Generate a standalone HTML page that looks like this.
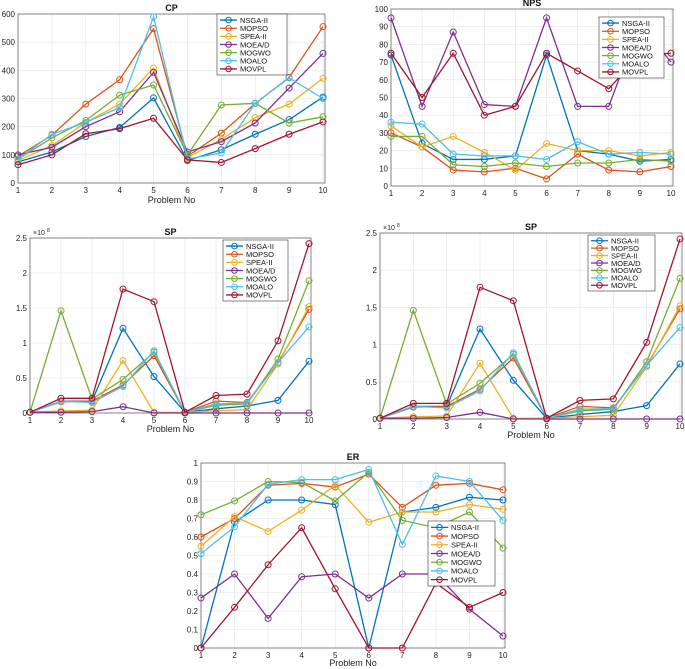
<!DOCTYPE html>
<html><head><meta charset="utf-8">
<style>
html,body{margin:0;padding:0;background:#fff;}
svg{display:block;font-family:"Liberation Sans",sans-serif;}
</style></head>
<body>
<svg id="fig" width="685" height="669" viewBox="0 0 685 669" xmlns="http://www.w3.org/2000/svg"></svg>
<script>
const seriesNames = ["NSGA-II","MOPSO","SPEA-II","MOEA/D","MOGWO","MOALO","MOVPL"];
const seriesColors = ["#0072BD","#D95319","#EDB120","#7E2F8E","#77AC30","#4DBEEE","#A2142F"];
const problems = [1,2,3,4,5,6,7,8,9,10];

const cpNSGA = [75,110,165,197,302,80,118,173,225,305];
const cpMOPSO = [95,170,280,367,548,95,177,282,375,555];
const cpSPEA = [80,133,215,280,408,90,155,232,280,372];
const cpMOEAD = [100,127,200,253,393,110,147,213,337,460];
const cpMOGWO = [85,160,222,312,348,100,277,283,213,235];
const cpMOALO = [85,173,215,268,590,85,107,283,373,300];
const cpMOVPL = [65,100,175,193,230,82,73,122,173,217];
const cpTicks = [0,100,200,300,400,500,600];

const npsNSGA = [74,24,15,15,17,74,20,18,14,15];
const npsMOPSO = [30,22,9,8,10,4,18,9,8,11];
const npsSPEA = [34,22,28,19,9,24,20,20,17,19];
const npsMOEAD = [95,45,87,46,45,95,45,45,92,70];
const npsMOGWO = [28,28,12,11,13,11,13,13,15,14];
const npsMOALO = [36,35,18,17,17,15,25,18,19,18];
const npsMOVPL = [75,50,75,40,45,75,65,55,74,75];
const npsTicks = [0,10,20,30,40,50,60,70,80,90,100];

const spNSGA = [0.01,0.17,0.17,1.21,0.52,0.01,0.06,0.10,0.18,0.74];
const spMOPSO = [0.01,0.16,0.17,0.40,0.82,0.01,0.17,0.15,0.72,1.48];
const spSPEA = [0.01,0.03,0.04,0.75,0.01,0.01,0.03,0.05,0.70,1.52];
const spMOEAD = [0.01,0.01,0.02,0.09,0.0,0.0,0.0,0.0,0.0,0.0];
const spMOGWO = [0.01,1.46,0.20,0.48,0.87,0.01,0.11,0.13,0.77,1.89];
const spMOALO = [0.01,0.17,0.15,0.38,0.89,0.01,0.13,0.14,0.72,1.23];
const spMOVPL = [0.01,0.21,0.21,1.77,1.59,0.01,0.25,0.27,1.03,2.42];
const spTicks = [0,0.5,1,1.5,2,2.5];

const erNSGA = [0,0.68,0.8,0.8,0.775,0,0.735,0.76,0.815,0.8];
const erMOPSO = [0.6,0.7,0.88,0.89,0.87,0.94,0.76,0.88,0.89,0.855];
const erSPEA = [0.55,0.71,0.63,0.745,0.88,0.68,0.735,0.735,0.775,0.75];
const erMOEAD = [0.27,0.4,0.16,0.385,0.4,0.27,0.4,0.4,0.21,0.065];
const erMOGWO = [0.72,0.795,0.9,0.895,0.795,0.95,0.69,0.65,0.735,0.54];
const erMOALO = [0.51,0.655,0.885,0.91,0.91,0.965,0.56,0.93,0.9,0.69];
const erMOVPL = [0,0.22,0.45,0.65,0.32,0,0,0.35,0.22,0.3];
const erTicks = [0,0.1,0.2,0.3,0.4,0.5,0.6,0.7,0.8,0.9,1];

const NS = "http://www.w3.org/2000/svg";
const fig = document.getElementById("fig");
function mk(tag, attrs, parent){
  const e = document.createElementNS(NS, tag);
  for (const k in attrs) e.setAttribute(k, attrs[k]);
  parent.appendChild(e);
  return e;
}

function panel(cfg){
  const g = mk("g", {}, fig);
  
  
  const ymin = cfg.ticks[0], ymax = cfg.ticks[cfg.ticks.length-1];
  const xs = v => cfg.x0 + (v-1)/9*(cfg.x1-cfg.x0);
  const ys = v => cfg.y0 - (v-ymin)/(ymax-ymin)*(cfg.y0-cfg.y1);
  const R = cfg.right || cfg.x1;
  // grid
  problems.forEach(p=>{
    const l = mk("line",{x1:xs(p),x2:xs(p),y1:cfg.y1,y2:cfg.y0,stroke:"#e3e3e3","stroke-width":0.6},g);
    
    
    const t = mk("text",{x:xs(p),y:cfg.y0+10,"font-size":8,"text-anchor":"middle",fill:"#222"},g);
    t.textContent = p;
    
    
  });
  cfg.ticks.forEach(v=>{
    const l = mk("line",{x1:cfg.x0,x2:R,y1:ys(v),y2:ys(v),stroke:"#e3e3e3","stroke-width":0.6},g);
    
    
    const t = mk("text",{x:cfg.x0-3,y:ys(v)+3,"font-size":8,"text-anchor":"end",fill:"#222"},g);
    t.textContent = v;
    
    
  });
  const box = mk("rect",{x:cfg.x0,y:cfg.y1,width:R-cfg.x0,height:cfg.y0-cfg.y1,fill:"none",stroke:"#555","stroke-width":0.7},g);
  
  
  // series
  cfg.data.forEach((arr,i)=>{
    const sg = mk("g",{},g);
    
    
    const pts = arr.map((v,j)=>xs(problems[j])+","+ys(v)).join(" ");
    mk("polyline",{points:pts,fill:"none",stroke:seriesColors[i],"stroke-width":1.3},sg);
    arr.forEach((v,j)=>{
      const c = mk("circle",{cx:xs(problems[j]),cy:ys(v),r:3,fill:"none",stroke:seriesColors[i],"stroke-width":1},sg);
      
      
    });
  });
  // title
  const tt = mk("text",{x:(cfg.x0+R)/2,y:cfg.y1-3,"font-size":9,"font-weight":"bold","text-anchor":"middle",fill:"#111"},g);
  tt.textContent = cfg.title;
  
  
  if (cfg.xlabel){
    const xl = mk("text",{x:(cfg.x0+R)/2,y:cfg.xlabelY,"font-size":9,"text-anchor":"middle",fill:"#222"},g);
    xl.textContent = "Problem No";
    
    
  }
  if (cfg.exp){
    const ex = mk("text",{x:cfg.x0+3,y:cfg.y1-3,"font-size":7,fill:"#222"},g);
    ex.textContent = "\u00d710";
    
    
    const es = mk("text",{x:cfg.x0+17,y:cfg.y1-6,"font-size":5,fill:"#222"},g);
    es.textContent = "8";
  }
  // legend
  const L = cfg.legend;
  const lg = mk("g",{},g);
  
  
  mk("rect",{x:L[0],y:L[1],width:L[2]-L[0],height:L[3]-L[1],fill:"#fff",stroke:"#333","stroke-width":0.6},lg);
  const step = (L[3]-L[1]-4)/7;
  seriesNames.forEach((n,i)=>{
    const e = mk("g",{},lg);
    
    
    const yy = L[1]+2+step*(i+0.5);
    mk("line",{x1:L[0]+3,x2:L[0]+20,y1:yy,y2:yy,stroke:seriesColors[i],"stroke-width":1.3},e);
    mk("circle",{cx:L[0]+11.5,cy:yy,r:2.8,fill:"none",stroke:seriesColors[i],"stroke-width":1},e);
    const t = mk("text",{x:L[0]+23,y:yy+2.8,"font-size":7.5,fill:"#111"},e);
    t.textContent = n;
  });
}

panel({name:"cp-chart",title:"CP",x0:18,x1:323,right:325,y0:183,y1:14,ticks:cpTicks,
  data:[cpNSGA,cpMOPSO,cpSPEA,cpMOEAD,cpMOGWO,cpMOALO,cpMOVPL],
  legend:[217,14,287,75],xlabel:true,xlabelY:203});
panel({name:"nps-chart",title:"NPS",x0:391,x1:671,right:673,y0:186,y1:9,ticks:npsTicks,
  data:[npsNSGA,npsMOPSO,npsSPEA,npsMOEAD,npsMOGWO,npsMOALO,npsMOVPL],
  legend:[599,17,664,78],xlabel:false});
panel({name:"sp-chart-left",title:"SP",x0:30,x1:309,right:311,y0:413,y1:238,ticks:spTicks,
  data:[spNSGA,spMOPSO,spSPEA,spMOEAD,spMOGWO,spMOALO,spMOVPL],
  legend:[223,240,288,301],xlabel:true,xlabelY:432,exp:true});
panel({name:"sp-chart-right",title:"SP",x0:380,x1:680,right:682,y0:419,y1:233,ticks:spTicks,
  data:[spNSGA,spMOPSO,spSPEA,spMOEAD,spMOGWO,spMOALO,spMOVPL],
  legend:[588,235,655,291],xlabel:true,xlabelY:438,exp:true});
panel({name:"er-chart",title:"ER",x0:201,x1:503,right:505,y0:648,y1:463,ticks:erTicks,
  data:[erNSGA,erMOPSO,erSPEA,erMOEAD,erMOGWO,erMOALO,erMOVPL],
  legend:[428,521,495,586],xlabel:true,xlabelY:666});
</script>
</body></html>
